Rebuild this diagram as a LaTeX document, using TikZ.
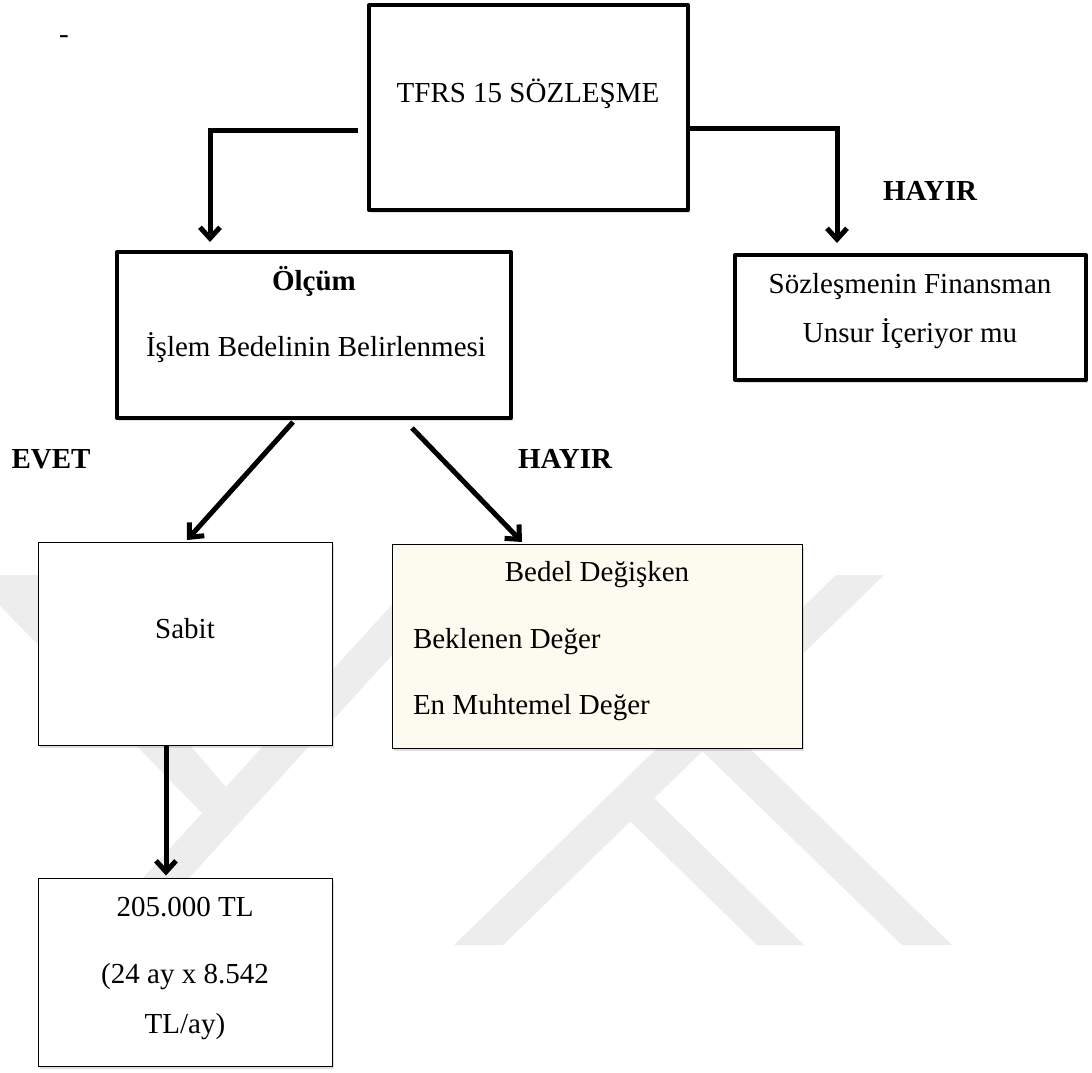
\documentclass[tikz,border=0pt]{standalone}
\usepackage{fontspec}
\setmainfont{Liberation Serif}
\usetikzlibrary{arrows.meta,shadows}

\definecolor{cream}{RGB}{253,251,239}
\definecolor{wmgray}{RGB}{237,237,237}

\begin{document}
\begin{tikzpicture}[x=1pt,y=-1pt,
  every node/.style={inner sep=0pt, outer sep=0pt},
  txt/.style={font=\fontsize{29}{35}\selectfont, anchor=base},
  boldtxt/.style={txt, font=\fontsize{29}{35}\selectfont\bfseries},
  boxshadow/.style={drop shadow={shadow xshift=1.5pt, shadow yshift=-2.5pt, opacity=0.25}},
  heavybox/.style={draw, line width=4pt, line join=round, fill=white, boxshadow},
  lightbox/.style={draw, line width=1.6pt, fill=white, boxshadow},
  conn/.style={line width=5pt, -{Straight Barb[length=11pt,width=20pt]}},
  wmband/.style={fill=wmgray, draw=none}
]
% page
\path[use as bounding box, fill=white] (0,0) rectangle (1092,1072);

% faint background emblem
\fill[wmband] (0,575) -- (42,575) -- (226,787) -- (202,813) -- (-30,575) -- cycle;
\fill[wmband] (82,945) -- (128,945) -- (465,575) -- (419,575) -- cycle;
\fill[wmband] (454,945) -- (503,945) -- (884,575) -- (836,575) -- cycle;
\fill[wmband] (630,821) -- (757,945) -- (804,945) -- (654,798) -- cycle;
\fill[wmband] (521,575) -- (571,575) -- (952,945) -- (902,945) -- cycle;

% boxes
\node[heavybox, minimum width=319pt, minimum height=205pt] (top) at (528.5,107.5) {};
\node[heavybox, minimum width=351pt, minimum height=125pt] (rbox) at (910.5,317.5) {};
\node[heavybox, minimum width=394pt, minimum height=166pt] (olcum) at (314,335) {};
\node[lightbox, minimum width=294pt, minimum height=203pt] (sabit) at (185.5,644) {};
\node[lightbox, fill=cream, minimum width=410pt, minimum height=204pt] (bedel) at (597.5,646.5) {};
\node[lightbox, minimum width=294pt, minimum height=188pt] (n205) at (185.5,972.5) {};

% texts
\node[txt] (dash) at (64,43) {-};
\node[txt] (t1) at (528,102) {TFRS 15 SÖZLEŞME};
\node[boldtxt] (h1) at (930,200) {HAYIR};
\node[txt] (t2a) at (910,293) {Sözleşmenin Finansman};
\node[txt] (t2b) at (910,342) {Unsur İçeriyor mu};
\node[boldtxt] (t3a) at (314,290) {Ölçüm};
\node[txt] (t3b) at (316,356) {İşlem Bedelinin Belirlenmesi};
\node[boldtxt] (evet) at (51,468) {EVET};
\node[boldtxt] (h2) at (565,468) {HAYIR};
\node[txt] (t4) at (185,638) {Sabit};
\node[txt] (t5a) at (597,581) {Bedel Değişken};
\node[txt, anchor=base west] (t5b) at (413,648) {Beklenen Değer};
\node[txt, anchor=base west] (t5c) at (413,714) {En Muhtemel Değer};
\node[txt] (t6a) at (185,916) {205.000 TL};
\node[txt] (t6b) at (185,983) {(24 ay x 8.542};
\node[txt] (t6c) at (185,1033) {TL/ay)};

% connectors
\coordinate (l0) at (358,130);
\coordinate (r0) at (688,128);
\draw[conn] (l0) -| ([xshift=-104pt,yshift=10pt]olcum.north);
\draw[conn] (r0) -| ([xshift=-73.5pt,yshift=12pt]rbox.north);
\draw[conn] ([xshift=-21pt,yshift=-4pt]olcum.south) -- ([xshift=1.5pt,yshift=2.5pt]sabit.north);
\draw[conn] ([xshift=98pt,yshift=-10pt]olcum.south) -- ([xshift=-75.5pt,yshift=2.5pt]bedel.north);
\draw[conn] ([xshift=-19.5pt]sabit.south) -- ([xshift=-19.5pt,yshift=3pt]n205.north);
\end{tikzpicture}
\end{document}
